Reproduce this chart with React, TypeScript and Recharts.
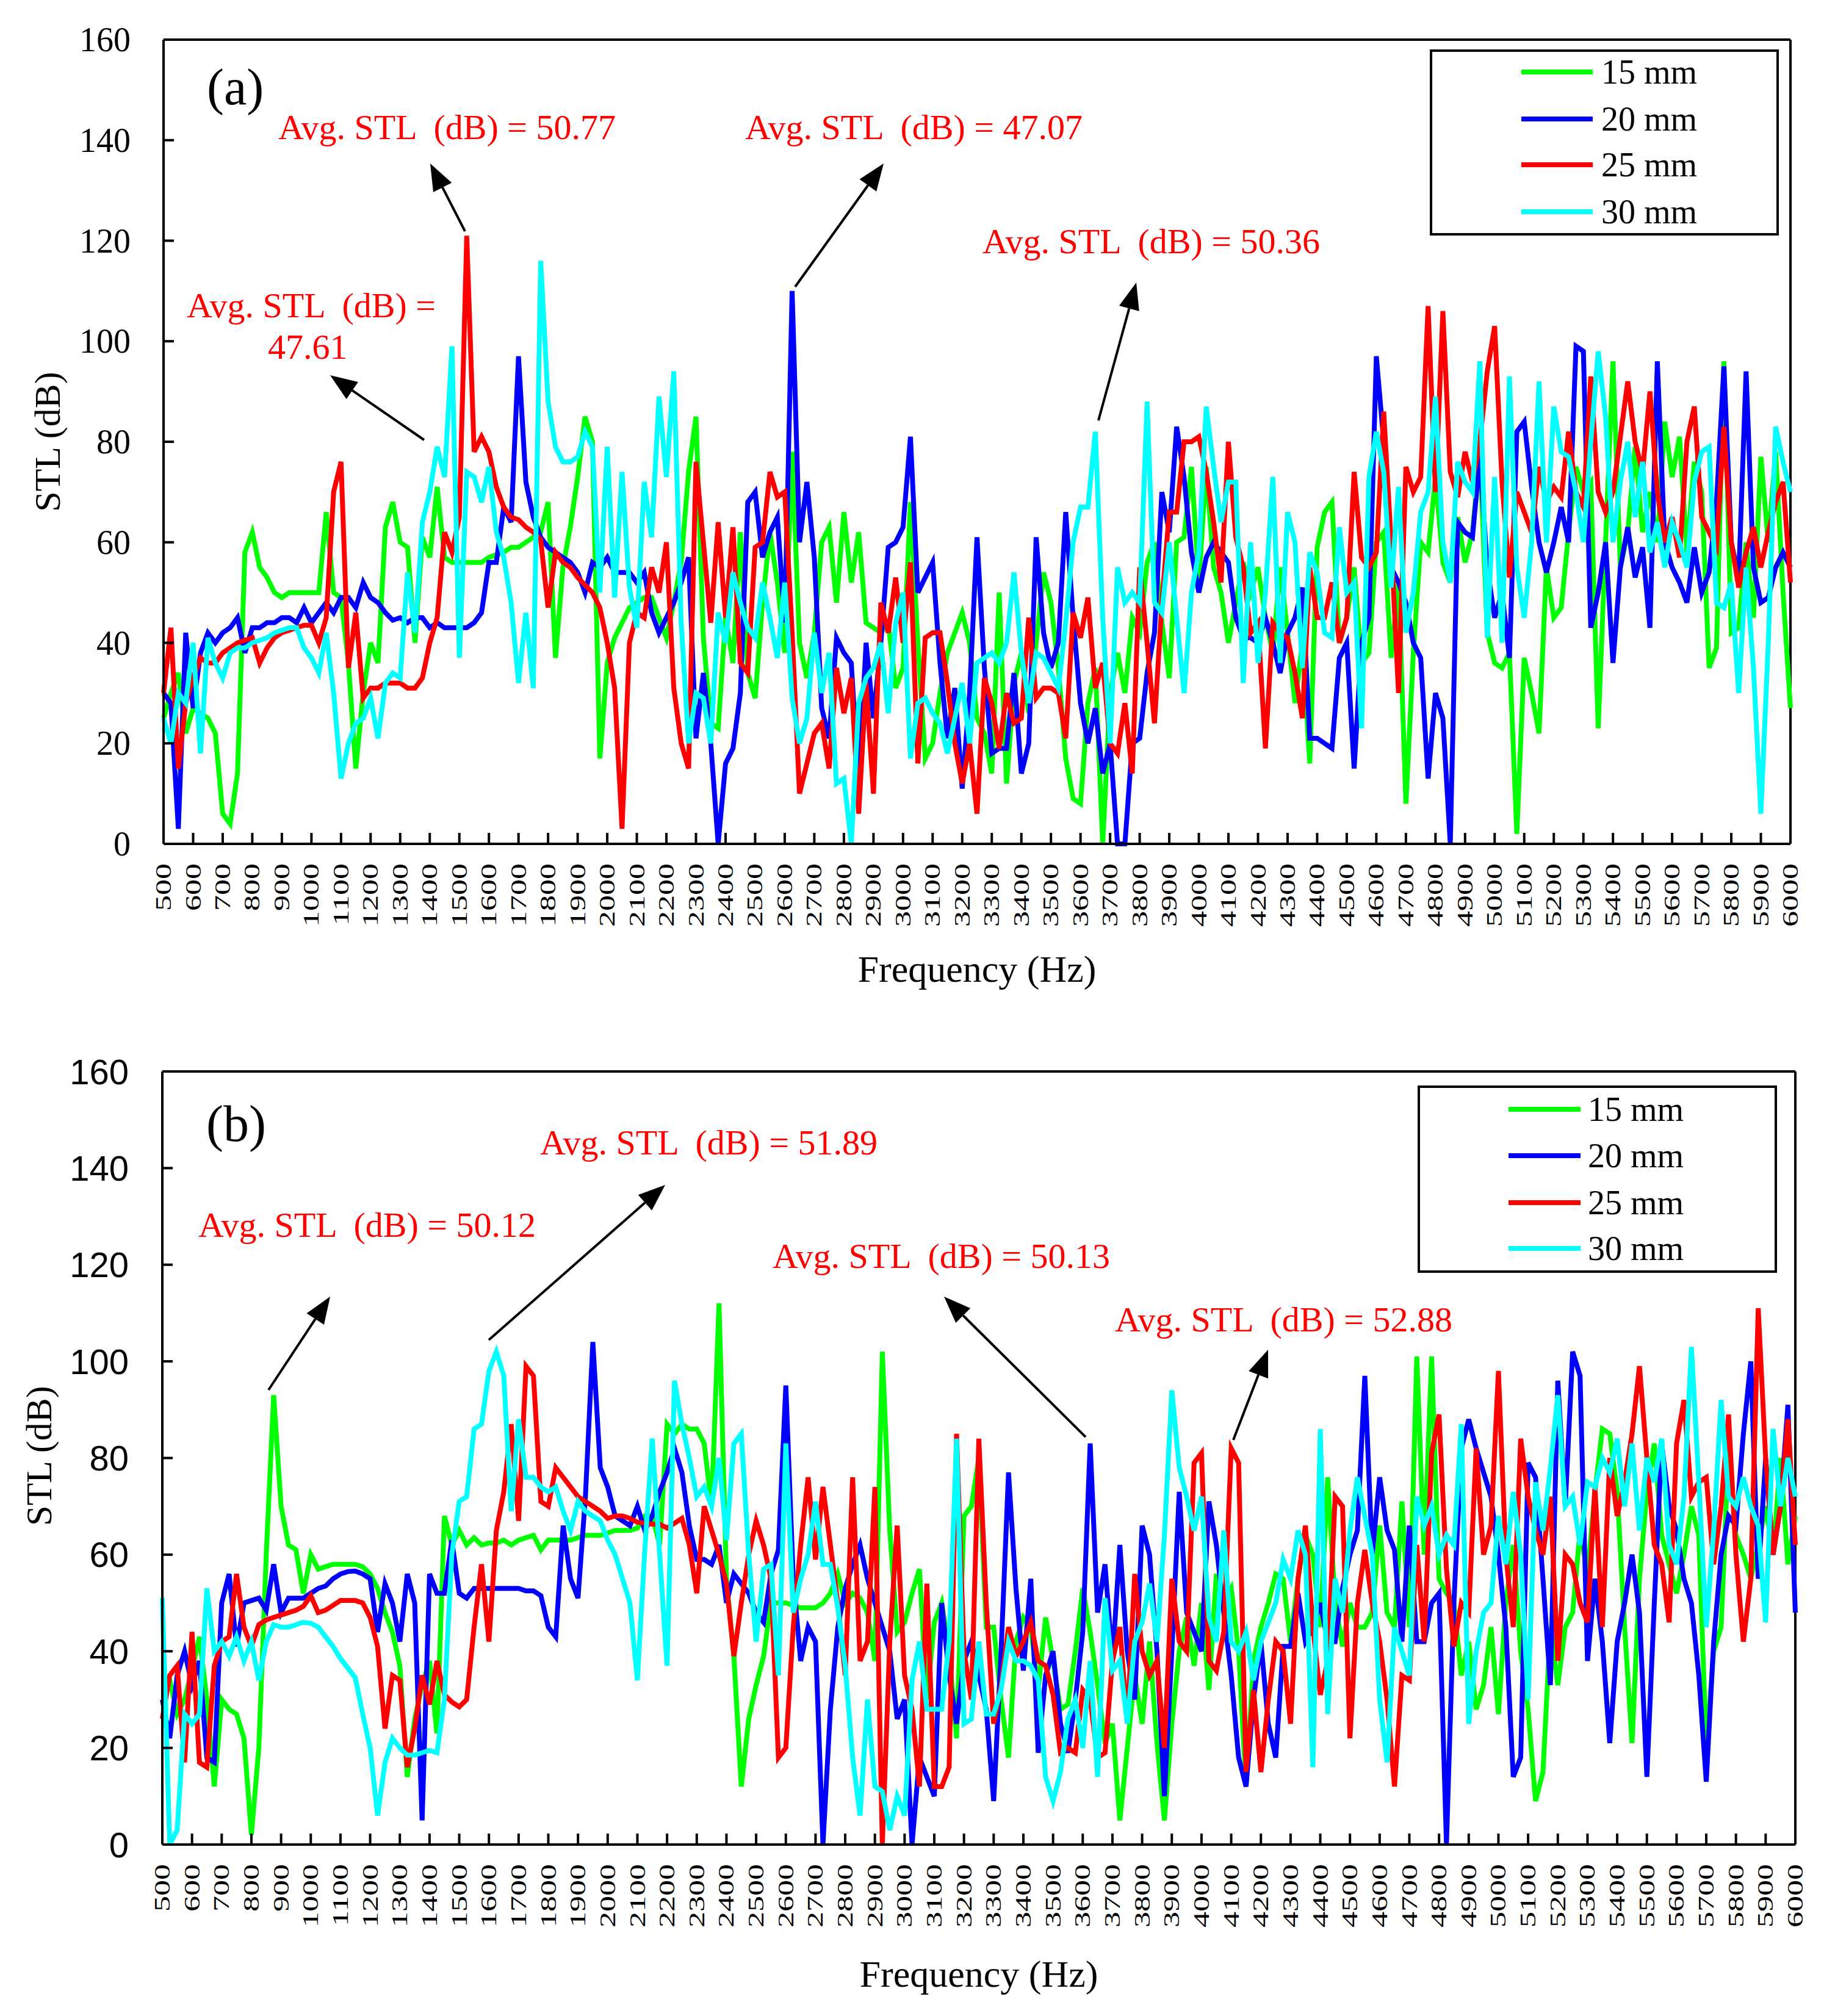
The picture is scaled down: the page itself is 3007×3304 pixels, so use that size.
import React from "react";
import { LineChart, Line, XAxis, YAxis, ReferenceLine, Legend } from "recharts";

const SERIF = '"Liberation Serif", "Times New Roman", serif';
const SANS = '"Liberation Sans", Arial, sans-serif';

// frequency grid (Hz), 25 Hz step
const freqs = Array.from({ length: 221 }, (_, i) => 500 + i * 25);
const xTicks = freqs.filter((f) => f % 100 === 0);
const yTicks = [0, 20, 40, 60, 80, 100, 120, 140, 160];

const series = [
  { key: "s15", name: "15 mm", color: "#00FF00" },
  { key: "s20", name: "20 mm", color: "#0000FF" },
  { key: "s25", name: "25 mm", color: "#FF0000" },
  { key: "s30", name: "30 mm", color: "#00FFFF" },
];

// ---- panel (a) STL, dB ----
const a15 = [
  25,30,34,22, 27,26,25,22, 6,4,14,58, 62,55,53,50, 49,50,50,50,
  50,50,66,50, 49,36,15,30, 40,36,63,68, 60,59,40,61, 57,71,57,56,
  56,56,56,56, 57,57.5,58,59, 59,60,61,62, 68,37,55,63, 73,85,80,17,
  36,41,44,47, 48,49,49,45, 41,48,56,74, 85,41,24,23, 45,36,62,34,
  29,48,62,52, 38,78,40,33, 42,60,63,48, 66,52,62,44, 43,42,44,31,
  35,68,40,17, 20,30,38,42, 46,40,25,22, 14,50,12,32, 38,26,40,54,
  48,35,17,9, 8,28,35,0, 30,38,30,45, 42,56,60,44, 33,60,61,75,
  52,75,55,50, 40,48,56,50, 55,45,38,55, 42,28,40,16, 59,66,68,40,
  45,55,36,38, 60,62,37,52, 8,38,60,58, 73,56,52,65, 56,62,78,42,
  36,35,38,2, 37,30,22,55, 45,47,62,75, 70,72,23,60, 96,55,62,79,
  62,70,60,84, 73,81,58,76, 70,35,39,96, 42,43,60,45, 77,60,78,50,
  27,
];
const a20 = [
  30,28,3,42, 27,38,42,40, 42,43,45,38, 43,43,44,44, 45,45,44,47,
  44,46,48,46, 49,49,47,52, 49,48,46,44.5, 45,44,45,45, 43,44,43,43,
  43,43,44,46, 56,56,67,64, 97,72,65,61, 59,58,57,56, 54,50,56,55,
  57,54,54,54, 52,54,46,42, 45,48,52,57, 21,34,20,0, 16,19,30,68,
  70,57,62,65, 44,110,60,72, 57,27,21,41, 38,36,12,40, 25,40,59,60,
  63,81,50,53, 56,36,21,31, 11,30,61,35, 18,19,19,34, 14,20,61,42,
  35,40,66,45, 28,20,27,14, 20,0,0,20, 21,34,42,70, 62,83,73,58,
  50,57,60,58, 56,45,41,41, 40,45,40,34, 42,45,51,21, 21,20,19,37,
  40,15,40,45, 97,80,55,52, 48,40,37,13, 30,25,0,64, 62,61,77,55,
  45,50,37,82, 84,71,60,54, 60,67,60,99, 98,43,50,60, 36,55,63,53,
  59,43,96,60, 55,52,48,59, 50,54,68,95, 60,53,94,55, 48,49,55,58,
  55,
];
const a25 = [
  30,43,15,28, 33,37,36,36, 38,39,40,40.5, 41,36,39,41, 42,42.5,43,43.5,
  43.5,40,45,70, 76,35,46,29, 31,31,32,32, 32,31,31,33, 40,45,62,58,
  65,121,78,81, 78,71,67,65, 64.5,63,62,60.5, 47,58,56,55, 53,51.5,50,47,
  40,31,3,40, 46,45,55,50, 60,31,20,15, 76,60,44,64, 45,63,36,34,
  59,60,74,69, 70,42,10,16, 22,24,15,35, 26,33,6,32, 10,48,42,53,
  40,56,16,41, 42,42,32,20, 12,20,6,33, 28,19,30,24, 25,45,29,31,
  31,30,21,46, 41,49,31,36, 20,18,28,14, 55,40,24,48, 66,66,80,80,
  81,74,64,52, 80,61,55,42, 44,19,44,42, 41,34,25,55, 45,45,52,40,
  45,74,57,55, 58,86,60,30, 75,70,73,107, 70,106,74,69, 78,72,80,94,
  103,72,53,70, 66,62,75,68, 71,69,82,70, 67,93,70,66, 70,81,92,80,
  74,90,70,60, 65,57,80,87, 65,62,59,83, 60,51,58,63, 55,62,68,72,
  52,
];
const a30 = [
  25,20,30,28, 40,18,41,36, 33,38,39,39, 40,40.5,41,42, 42.5,43,43,39,
  37,34,42,30, 13,20,24,25, 29,21,32,34, 33,54,42,64, 70,79,73,99,
  37,74,73,68, 75,62,57,48, 32,46,31,116, 88,79,76,76, 77,82,79,50,
  79,49,74,51, 43,72,61,89, 73,94,44,20, 30,29,20,46, 40,54,48,43,
  41,52,45,37, 52,29,20,25, 42,30,38,12, 13,0,28,33, 35,40,26,44,
  50,17,28,29, 26,24,18,25, 32,20,36,37, 38,36,40,54, 38,28,38,37,
  34,31,44,60, 67,67,82,45, 20,55,48,50, 48,88,48,46, 60,45,30,50,
  58,87,75,64, 72,72,32,60, 36,50,73,36, 66,60,35,58, 54,42,41,63,
  50,52,23,73, 82,74,51,71, 42,50,66,70, 89,60,52,76, 72,70,96,41,
  73,40,93,55, 45,60,92,60, 87,78,77,70, 60,80,98,85, 60,72,80,65,
  76,58,64,55, 64,60,55,72, 78,79,48,47, 52,30,55,35, 6,40,83,76,
  70,
];

// ---- panel (b) STL, dB ----
const b15 = [
  35,34,27,30, 36,43,30,12, 30,28,27,22, 2,20,60,93, 70,62,61,52,
  60,57,57.5,58, 58,58,58,57.5, 56,53,48,44, 37,14,26,33, 38,23,68,62,
  65,62,63.5,62, 62.4,62.4,63,62, 63,63.5,64,61, 63,63,63,63, 63.5,64,64,64,
  64.5,65,65,65, 65.5,68,68,62, 87,85,87,86, 86,83,70,112, 55,39,12,26,
  33,39,50,50, 50,49.5,49,49, 49,50,52,56, 50,52,51,48, 38,102,65,44,
  46,52,57,30, 46,50,40,22, 68,70,80,45, 45,30,18,42, 47,45,32,47,
  38,28,29,40, 53,44,33,21, 25,5,20,35, 25,42,21,5, 25,40,47,37,
  50,32,56,50, 53,40,12,38, 45,50,56,55, 42,55,64,60, 45,76,50,41,
  50,45,45,48, 66,48,45,71, 45,101,60,101, 55,52,50,35, 42,28,33,45,
  27,50,62,40, 28,9,15,45, 33,45,48,65, 56,73,86,85, 73,45,21,55,
  73,83,64,58, 52,60,70,64, 20,40,45,82, 64,60,55,62, 70,60,80,58,
  68,
];
const b20 = [
  30,22,35,40, 33,38,18,17, 50,56,41,50, 50.5,51,48.5,58, 48,51,51,51,
  52,53,53.5,55, 56,56.5,56.6,56, 55,44,54,50, 42,56,50,5, 56,52,52,63,
  52,51,53,53, 53,53,53,53, 53,52.5,52.5,51.5, 45,43,66,55, 51,72,104,78,
  74,68,67,66, 70,65,68,73, 77,82,77,66, 59,59,58,62, 50,56,54,52,
  48,46,56,61, 95,55,38,45, 42,0,28,45, 53,58,62,55, 50,45,40,26,
  30,0,18,14, 10,50,35,25, 38,42,35,28, 9,40,77,53, 36,55,19,35,
  40,25,19,30, 44,83,48,58, 38,62,40,30, 66,60,40,10, 40,73,48,44,
  40,71,62,48, 35,18,12,30, 42,25,18,41, 41,52,42,45, 50,42,42,53,
  60,65,97,60, 76,65,61,42, 66,42,42,50, 52,0,50,82, 88,82,77,72,
  60,45,14,18, 79,76,55,33, 96,70,102,97, 38,55,42,21, 42,50,60,48,
  14,50,83,70, 65,55,50,35, 13,42,60,68, 66,85,100,55, 80,60,70,91,
  48,
];
const b25 = [
  26,35,37,17, 44,17,16,37, 42,43,56,45, 41,45.5,46.5,47, 47.5,48,48.5,49.3,
  51.5,48,48.5,49.5, 50.5,50.5,50.5,50, 47,41,24,35, 34,16,24,35, 29,38,31,29.5,
  28.5,30,45,58, 42,65,73,87, 67,99,97,71, 70,78,76,74, 72,71,70,69,
  67.5,68,68,67.5, 66.7,66.5,66.3,66.3, 65.5,66.5,67.5,62, 52,70,65,60, 54,39,50,60,
  67,62,55,18, 20,45,62,76, 59,74,62,50, 35,76,38,42, 74,0,42,66,
  35,28,12,54, 12,12,16,85, 40,30,84,50, 25,33,45,39, 42,46,38,37,
  31,19,20,19, 32,30,18,19, 38,45,25,56, 40,35,38,20, 55,42,40,79,
  81,38,36,44, 82,79,15,32, 15,30,42,40, 25,55,66,45, 31,38,72,70,
  22,50,61,50, 42,30,12,35, 34,62,42,81, 89,57,41,50, 48,82,60,66,
  98,60,45,84, 72,65,60,72, 38,60,58,50, 46,74,45,80, 68,75,85,99,
  80,62,58,46, 83,92,72,75, 76,58,70,89, 60,42,55,111, 80,60,70,88,
  62,
];
const b30 = [
  51,0,3,27, 25,27,53,40, 42,39,43,38, 42,34,42,45.5, 45,45,45.5,46,
  45.8,45,43,41, 38.5,36.5,34.5,27, 20,6,17,22, 20,18.5,18.5,19, 19.5,19,30,60,
  71,72,86,87, 98,102,97,69, 88,76,76,74, 73,74,69,65, 71,69,68,67,
  63,60,55,50, 34,61,84,60, 37,96,87,80, 72,74,70,80, 63,83,85,60,
  42,57,58,35, 83,48,55,60, 71,58,58,49, 37,18,6,30, 12,11,3,10,
  6,34,42,28, 28,28,42,84, 25,26,42,27, 27,32,42,38, 38,37,34,14,
  9,15,26,30, 20,38,14,51, 36,38,25,42, 46,54,42,64, 94,78,72,65,
  72,47,42,65, 42,40,44,34, 42,46,50,59, 55,65,60,16, 86,27,55,48,
  65,76,68,60, 30,17,45,40, 35,72,66,70, 60,64,62,87, 25,40,48,50,
  68,58,73,60, 30,75,65,78, 93,70,72,62, 75,74,80,77, 84,70,83,65,
  80,75,84,62, 58,72,103,75, 45,65,92,72, 70,76,70,66, 46,86,70,80,
  72,
];

const rowsA = freqs.map((f, i) => ({ f, s15: a15[i], s20: a20[i], s25: a25[i], s30: a30[i] }));
const rowsB = freqs.map((f, i) => ({ f, s15: b15[i], s20: b20[i], s25: b25[i], s30: b30[i] }));

// annotations (page pixel positions)
const notes = [
  { x: 456, y: 208, text: "Avg. STL  (dB) = 50.77" },
  { x: 306, y: 500, text: "Avg. STL  (dB) =" },
  { x: 439, y: 568, text: "47.61" },
  { x: 1221, y: 208, text: "Avg. STL  (dB) = 47.07" },
  { x: 1610, y: 395, text: "Avg. STL  (dB) = 50.36" },
  { x: 325, y: 2007, text: "Avg. STL  (dB) = 50.12" },
  { x: 885, y: 1872, text: "Avg. STL  (dB) = 51.89" },
  { x: 1266, y: 2058, text: "Avg. STL  (dB) = 50.13" },
  { x: 1827, y: 2162, text: "Avg. STL  (dB) = 52.88" },
];
const arrows = [
  [762, 379, 705, 268],
  [695, 721, 541, 615],
  [1303, 470, 1448, 268],
  [1800, 689, 1862, 463],
  [440, 2278, 541, 2125],
  [801, 2196, 1090, 1942],
  [1779, 2355, 1547, 2125],
  [2021, 2360, 2078, 2212],
];

function Arrow({ x1, y1, x2, y2 }) {
  const dx = x2 - x1;
  const dy = y2 - y1;
  const len = Math.hypot(dx, dy);
  const ux = dx / len;
  const uy = dy / len;
  const hl = 44;
  const hw = 17;
  const bx = x2 - ux * hl;
  const by = y2 - uy * hl;
  return (
    <g>
      <line x1={x1} y1={y1} x2={bx} y2={by} stroke="#000" strokeWidth={4} />
      <polygon
        points={`${x2},${y2} ${bx - uy * hw},${by + ux * hw} ${bx + uy * hw},${by - ux * hw}`}
        fill="#000"
      />
    </g>
  );
}

const renderXTick = ({ x, y, payload }) => (
  <g>
    <line x1={x} y1={y} x2={x} y2={y - 18} stroke="#000" strokeWidth={4} />
    <text
      transform={`translate(${x},${y + 32}) rotate(-90) scale(1,0.68)`}
      textAnchor="end"
      dy="0.34em"
      fontSize={52}
      fontFamily={SERIF}
      fill="#000"
    >
      {payload.value}
    </text>
  </g>
);

const makeYTick = (font, size, gap) => ({ x, y, payload }) => (
  <g>
    <line x1={x} y1={y} x2={x + 17} y2={y} stroke="#000" strokeWidth={4} />
    <text x={x - gap} y={y} textAnchor="end" dominantBaseline="central" fontSize={size} fontFamily={font} fill="#000">
      {payload.value}
    </text>
  </g>
);

const yTitle = (cx, cy) => () => (
  <text
    transform={`translate(${cx},${cy}) rotate(-90)`}
    textAnchor="middle"
    dominantBaseline="central"
    fontSize={60}
    fontFamily={SERIF}
    fill="#000"
  >
    STL (dB)
  </text>
);

const xTitle = (cx, cy) => () => (
  <text x={cx} y={cy} textAnchor="middle" dominantBaseline="central" fontSize={62} fontFamily={SERIF} fill="#000">
    Frequency (Hz)
  </text>
);

const legendBox = (w, h, rows, lx1, lx2, tx) => () => (
  <svg width={w} height={h} style={{ display: "block" }}>
    <rect x={2} y={2} width={w - 4} height={h - 4} fill="#fff" stroke="#000" strokeWidth={4} />
    {series.map((s, i) => (
      <g key={s.key}>
        <line x1={lx1} x2={lx2} y1={rows[i]} y2={rows[i]} stroke={s.color} strokeWidth={8} />
        <text x={tx} y={rows[i]} dominantBaseline="central" fontSize={56} fontFamily={SERIF} fill="#000">
          {s.name}
        </text>
      </g>
    ))}
  </svg>
);

function Panel({ data, height, margin, xHeight, yWidth, yTick, yTitlePos, xTitlePos, legend }) {
  const axisLine = { stroke: "#000", strokeWidth: 4 };
  return (
    <LineChart width={3007} height={height} data={data} margin={margin}>
      <XAxis
        dataKey="f"
        type="number"
        domain={[500, 6000]}
        ticks={xTicks}
        interval={0}
        tickSize={0}
        tickMargin={0}
        tickLine={false}
        tick={renderXTick}
        height={xHeight}
        axisLine={axisLine}
        label={{ content: xTitle(xTitlePos[0], xTitlePos[1]) }}
      />
      <YAxis
        type="number"
        domain={[0, 160]}
        ticks={yTicks}
        interval={0}
        tickSize={0}
        tickMargin={0}
        tickLine={false}
        tick={yTick}
        width={yWidth}
        axisLine={axisLine}
        label={{ content: yTitle(yTitlePos[0], yTitlePos[1]) }}
      />
      <ReferenceLine y={160} stroke="#000" strokeWidth={4} />
      <ReferenceLine x={6000} stroke="#000" strokeWidth={4} />
      <Legend
        layout="vertical"
        align="center"
        verticalAlign="middle"
        wrapperStyle={{ left: legend.left, top: legend.top, width: legend.w, height: legend.h }}
        content={legendBox(legend.w, legend.h, legend.rows, legend.lx1, legend.lx2, legend.tx)}
      />
      {series.map((s) => (
        <Line
          key={s.key}
          type="linear"
          dataKey={s.key}
          name={s.name}
          stroke={s.color}
          strokeWidth={8}
          dot={false}
          activeDot={false}
          isAnimationActive={false}
        />
      ))}
    </LineChart>
  );
}

export default function App() {
  return (
    <div style={{ position: "absolute", left: 0, top: 0, width: 3007, height: 3304, background: "#fff", overflow: "hidden" }}>
      <div style={{ position: "absolute", left: 0, top: 0 }}>
        <Panel
          data={rowsA}
          height={1650}
          margin={{ top: 65, right: 73, bottom: 0, left: 0 }}
          xHeight={267}
          yWidth={268}
          yTick={makeYTick(SERIF, 56, 54)}
          yTitlePos={[78, 724]}
          xTitlePos={[1601, 1588]}
          legend={{ left: 2343, top: 81, w: 572, h: 305, rows: [37, 114, 189, 266], lx1: 150, lx2: 267, tx: 281 }}
        />
      </div>
      <div style={{ position: "absolute", left: 0, top: 1650 }}>
        <Panel
          data={rowsB}
          height={1654}
          margin={{ top: 106, right: 65, bottom: 0, left: 0 }}
          xHeight={281}
          yWidth={266}
          yTick={makeYTick(SANS, 58, 55)}
          yTitlePos={[64, 736]}
          xTitlePos={[1604, 1585]}
          legend={{ left: 2323, top: 129, w: 589, h: 307, rows: [39, 115, 192, 267], lx1: 149, lx2: 267, tx: 279 }}
        />
      </div>
      <svg width={3007} height={3304} style={{ position: "absolute", left: 0, top: 0, pointerEvents: "none" }}>
        <text x={339} y={142} dominantBaseline="central" fontSize={84} fontFamily={SERIF} fill="#000">(a)</text>
        <text x={338} y={1841} dominantBaseline="central" fontSize={84} fontFamily={SERIF} fill="#000">(b)</text>
        {notes.map((n, i) => (
          <text key={i} x={n.x} y={n.y} dominantBaseline="central" fontSize={58} fontFamily={SERIF} fill="#FF0000" style={{ whiteSpace: "pre" }}>
            {n.text}
          </text>
        ))}
        {arrows.map((a, i) => (
          <Arrow key={i} x1={a[0]} y1={a[1]} x2={a[2]} y2={a[3]} />
        ))}
      </svg>
    </div>
  );
}
